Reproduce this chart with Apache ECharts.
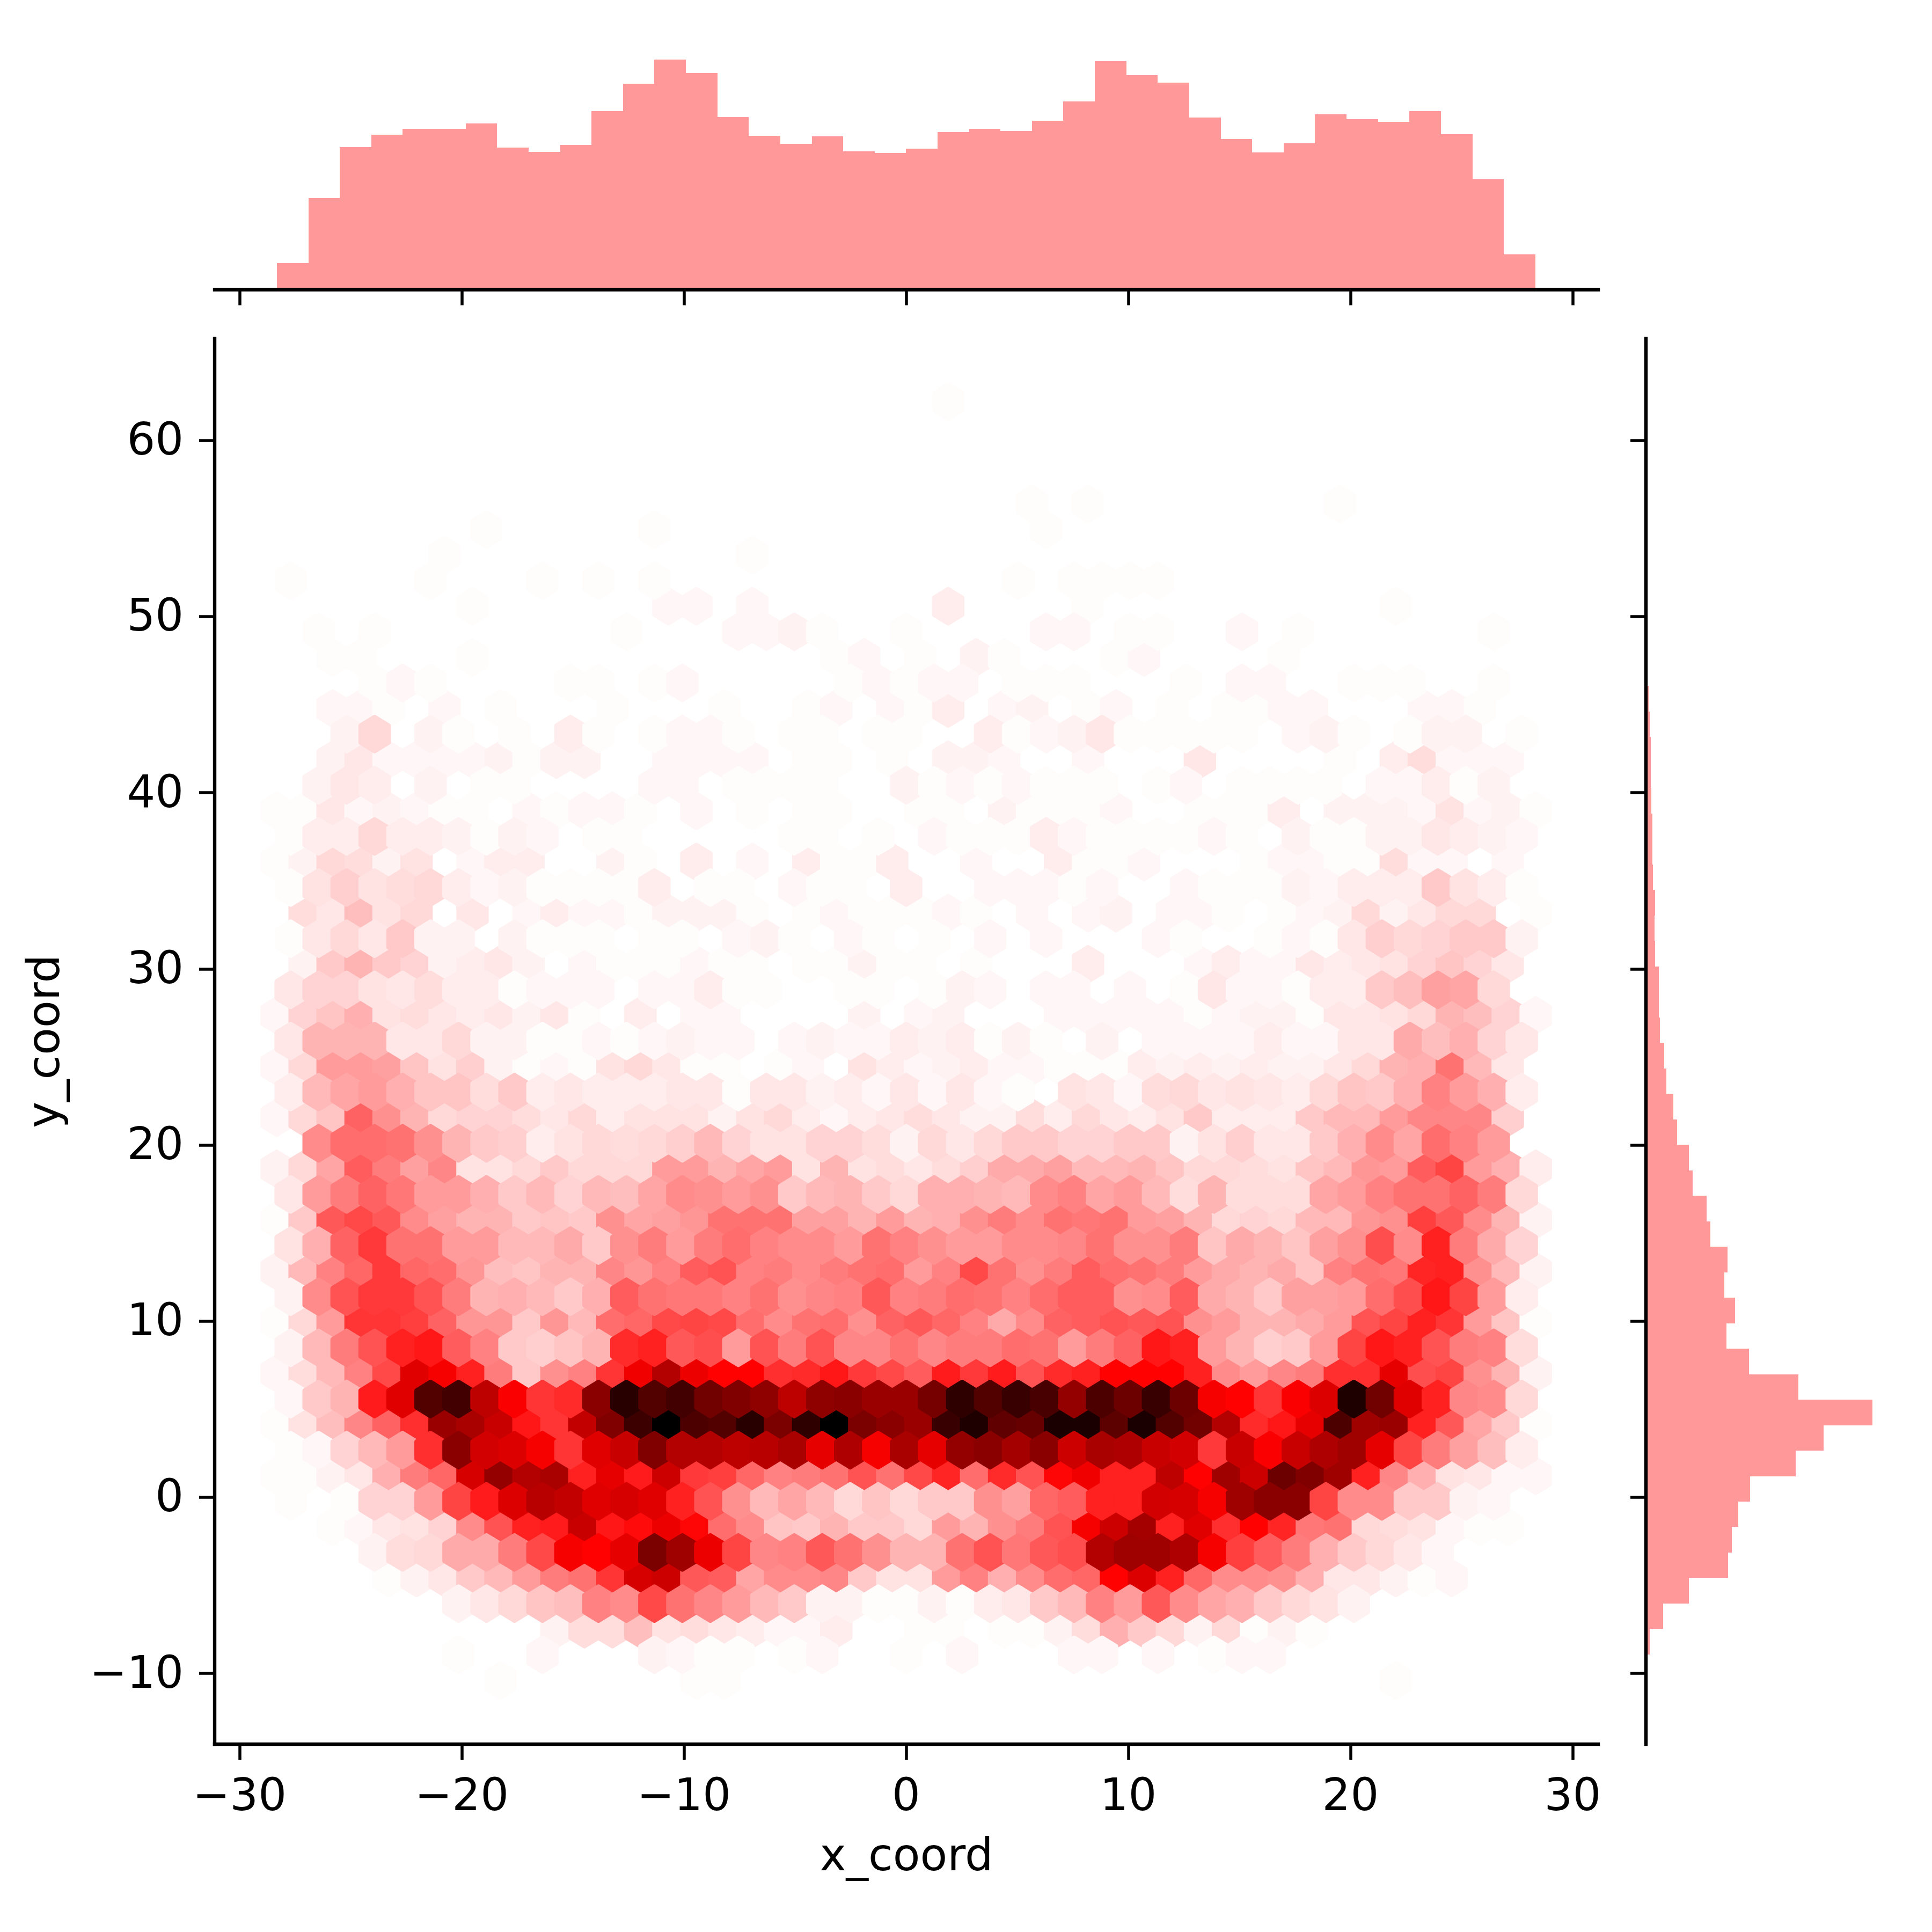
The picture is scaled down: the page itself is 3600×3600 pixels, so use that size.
<!DOCTYPE html>
<html>
<head>
<meta charset="utf-8">
<style>html,body{margin:0;padding:0;background:#fff}#c{width:3600px;height:3600px}</style>
<script src="https://cdn.jsdelivr.net/npm/echarts@6/dist/echarts.min.js"></script>
</head>
<body>
<div id="c"></div>
<script>
const xTicks = [-30,-20,-10,0,10,20,30];
const yTicks = [-10,0,10,20,30,40,50,60];
const xName = 'x_coord';
const yName = 'y_coord';

// marginal histogram of x_coord, left to right
const xBinStart = -28.32, xBinWidth = 1.416;
const xHist = [151,517,802,871,904,904,937,799,775,814,1006,1159,1294,1219,973,865,820,862,778,769,793,886,904,892,952,1060,1285,1207,1165,970,847,772,823,988,961,946,1006,874,622,199];

// marginal histogram of y_coord, bottom to top
const yBinStart = -8.93, yBinWidth = 1.447;
const yHist = [22,97,241,460,481,517,583,838,994,1267,853,577,451,499,439,457,361,340,262,241,175,154,115,103,79,73,73,52,49,52,40,37,37,31,28,28,22,16,8,5];

// hexagon lattice
const hexX0 = -28.33, hexDx = 1.2593, hexY0 = 5.576, hexDy = 1.452, firstRow = -11;

// hexbin counts, one list per lattice row from the bottom (row index firstRow, firstRow+1, ...)
const hexCounts = [
[0,0,0,0,0,0,0,0,1,0,0,0,0,0,0,1,1,0,0,0,0,0,0,0,0,0,0,0,0,0,0,0,0,0,0,0,0,0,0,0,1],
[0,0,0,0,0,0,1,0,0,2,0,0,0,3,2,1,1,0,1,2,0,0,1,0,2,0,0,0,2,2,0,2,0,1,2,2],
[0,0,0,0,0,0,0,0,0,0,3,7,7,13,6,7,5,4,2,2,4,0,0,1,1,0,1,1,3,7,16,11,8,3,8,1,3,1],
[0,0,0,0,0,0,3,5,8,12,13,25,23,36,28,24,20,14,11,3,3,1,1,3,1,4,5,11,14,25,20,33,23,18,16,11,8,6,3],
[0,0,0,0,1,3,5,11,14,20,26,28,40,58,60,33,32,18,23,23,24,11,6,6,20,25,16,23,29,30,50,57,44,30,23,23,22,16,5,5,3,1,2],
[0,0,0,3,7,8,17,17,26,36,52,50,55,76,69,54,37,24,25,33,28,22,15,15,28,34,27,33,35,65,69,69,66,52,38,32,26,16,11,8,5,2],
[0,0,1,2,5,6,9,23,34,44,45,61,46,48,54,49,29,23,12,11,15,11,11,8,20,15,22,26,34,52,60,68,44,56,41,50,43,27,28,8,7,6,2,1,1],
[1,0,1,9,9,20,37,45,57,64,62,56,58,56,44,34,22,14,18,14,8,12,8,11,11,22,19,30,32,44,44,59,58,52,69,73,73,37,23,23,11,11,3,2],
[1,1,3,5,16,26,30,58,71,65,67,44,55,45,60,39,38,30,25,26,28,34,28,36,43,29,42,34,49,53,44,44,63,50,69,60,79,75,69,44,24,16,6,5,2,2],
[1,2,9,14,20,41,73,59,57,52,40,56,61,75,65,65,63,64,67,55,66,52,67,55,71,73,68,73,60,67,66,61,59,39,61,51,61,66,69,55,37,26,19,13,4],
[1,6,13,24,31,41,70,67,61,46,40,62,75,88,100,85,84,92,76,91,100,76,73,70,89,94,81,80,95,95,82,95,84,78,65,42,46,55,85,69,70,44,33,18,11,1],
[2,11,15,45,56,84,87,63,51,40,42,73,92,84,87,78,75,72,63,72,73,70,70,77,91,84,89,86,71,85,79,89,79,52,50,40,51,57,94,78,56,44,24,23,8],
[2,7,14,25,36,56,52,44,26,11,22,25,40,53,65,54,50,50,41,42,46,39,36,32,45,39,45,34,42,44,50,50,50,44,23,20,24,26,41,41,55,35,37,22,15,3],
[3,14,26,34,44,46,32,25,11,10,12,15,42,44,33,35,20,34,26,34,24,24,28,24,26,26,29,28,20,26,31,46,44,20,15,10,11,20,37,46,44,34,26,25,7],
[1,8,20,40,40,38,31,21,21,11,21,14,29,30,36,37,36,29,23,28,29,22,31,33,30,25,17,23,31,32,34,33,34,22,20,15,15,17,20,34,37,44,40,20,12,1],
[3,23,34,39,39,34,26,15,16,14,11,16,32,28,27,27,25,28,22,24,25,33,25,26,29,28,25,29,32,32,22,23,32,17,15,11,19,19,20,29,35,46,37,20,4],
[3,14,25,30,39,30,29,21,13,12,15,15,24,21,25,32,34,25,26,23,26,28,29,20,25,36,28,22,26,32,29,28,26,20,17,15,17,12,25,28,27,43,44,22,14,3],
[6,16,31,39,28,28,20,20,14,14,17,11,22,26,20,26,29,25,23,23,20,28,25,22,20,20,23,23,24,28,22,22,26,12,17,15,12,19,22,35,23,44,26,17,9],
[1,11,33,36,33,23,19,15,15,11,12,11,22,18,19,21,28,28,28,19,19,15,20,15,16,22,26,23,28,27,28,20,19,15,8,9,8,14,14,21,22,38,33,23,15,3],
[5,20,26,31,27,20,20,16,11,14,9,14,13,18,23,22,20,22,11,14,15,11,8,16,16,15,14,23,25,18,20,14,7,15,7,7,7,18,20,25,28,28,31,26,8],
[3,8,18,32,26,19,24,6,6,8,11,8,8,8,20,20,15,18,20,6,15,6,7,5,7,10,17,17,19,14,14,15,12,8,8,7,6,12,14,21,20,32,37,20,16,4],
[0,23,29,29,28,22,15,11,10,4,6,8,7,8,10,14,9,6,6,9,9,7,3,8,5,8,11,11,9,9,11,11,3,6,10,5,5,11,16,23,18,29,25,20,0],
[2,8,12,31,22,15,8,9,9,7,5,8,4,6,6,6,3,6,8,4,2,4,5,7,5,3,3,7,4,8,5,4,6,11,4,4,4,11,14,14,20,24,24,24,10,0],
[4,14,18,20,16,12,12,7,11,4,5,4,4,4,5,5,1,5,5,3,4,2,5,2,5,2,1,0,6,5,2,7,8,5,6,5,4,8,12,11,16,25,20,16,4],
[2,8,20,20,19,12,6,10,3,1,2,1,6,8,5,1,1,0,1,2,0,6,4,2,3,4,2,2,1,1,1,4,3,4,3,4,3,3,5,8,15,16,28,14,5,0],
[5,15,15,15,5,5,8,3,3,1,1,2,1,2,3,2,2,0,2,3,2,2,4,3,4,1,3,1,0,3,0,2,2,2,2,4,2,2,5,5,17,13,16,9,5],
[2,9,12,16,6,7,5,4,5,3,5,1,0,4,0,2,2,0,0,0,0,3,0,2,3,0,0,0,2,2,2,2,2,1,2,3,3,1,5,5,6,8,15,13,9,2],
[5,9,9,6,5,7,4,4,1,2,2,2,0,2,2,4,1,1,0,0,1,1,0,1,3,2,0,2,2,0,2,0,1,5,2,2,1,4,4,11,13,19,18,8,0],
[0,3,11,15,11,9,3,4,5,3,0,2,1,1,1,2,1,1,0,1,1,3,1,1,0,1,0,0,0,4,0,0,0,2,4,2,2,5,4,5,6,9,12,9,5,0],
[1,5,8,5,11,3,3,0,3,1,1,1,0,1,1,0,2,3,1,0,2,1,0,1,0,2,0,2,0,0,0,2,1,0,0,1,2,1,5,10,8,9,11,11,3],
[0,7,5,13,6,8,0,5,0,2,4,2,2,1,3,3,3,1,0,1,2,1,1,1,2,1,0,2,0,2,3,0,2,2,1,0,1,2,3,8,3,5,8,8,0,1],
[1,6,10,6,7,8,4,2,3,1,1,1,1,4,0,1,1,0,2,1,1,0,4,0,0,2,2,2,1,2,0,0,2,1,1,1,3,2,4,4,4,11,6,4,1],
[1,3,8,7,3,6,0,2,4,4,0,0,3,1,0,4,0,2,0,4,1,1,4,0,0,2,0,0,4,1,1,2,0,0,0,1,2,2,1,1,7,2,2,0,2,0],
[1,4,4,8,4,4,3,1,3,2,0,1,1,0,0,0,0,0,1,1,0,1,0,2,1,1,1,4,2,1,1,1,1,2,1,0,3,1,1,3,3,5,4,3,2],
[1,1,5,2,3,2,1,1,0,2,1,2,2,1,0,2,0,1,0,1,1,0,0,1,1,0,3,1,1,1,2,0,0,1,1,1,4,0,3,3,3,2,6,2,3,1],
[0,3,5,4,0,3,0,1,1,0,0,0,0,2,2,0,1,1,1,1,0,0,3,1,2,1,2,1,1,1,0,1,2,0,1,1,1,1,0,2,2,4,1,3],
[0,0,3,5,2,2,2,2,3,1,3,3,0,0,2,2,2,2,0,1,1,0,1,0,3,3,2,0,0,2,0,0,0,5,0,0,0,0,1,0,4,7,2,2,2],
[0,0,3,8,0,3,1,0,1,0,4,1,0,1,2,2,1,0,1,1,0,1,1,0,0,4,1,2,3,5,1,1,1,1,1,0,2,3,1,0,1,3,3,0,1],
[0,0,2,2,1,0,2,0,1,0,0,0,1,0,0,0,1,0,0,1,2,0,2,1,4,0,2,3,0,1,2,0,1,0,1,1,2,2,0,0,0,2,2,1],
[0,0,0,1,2,1,0,0,0,0,1,1,0,1,2,0,0,0,0,0,1,2,1,2,2,0,1,1,1,0,0,0,1,0,2,2,0,0,1,1,1,0,0,1],
[0,0,1,1,0,0,0,1,0,0,0,0,0,0,0,0,0,0,0,0,1,2,0,1,0,3,1,0,0,0,1,2,0,0,0,0,1],
[0,1,0,1,0,0,0,0,0,0,0,0,1,0,0,0,2,2,3,1,0,0,1,0,0,0,0,2,2,0,1,1,0,0,2,0,1,0,0,0,0,0,0,1],
[0,0,0,0,0,0,0,1,0,0,0,0,0,0,2,2,0,2,0,0,0,0,0,0,4,0,0,0,0,1,0,0,0,0,0,0,0,0,0,0,1],
[1,0,0,0,0,1,0,0,0,1,0,1,0,1,0,0,0,0,0,0,0,0,0,0,0,0,1,0,1,1,1,1],
[0,0,0,0,0,0,1,0,0,0,0,0,0,0,0,0,0,1],
[0,0,0,0,0,0,0,1,0,0,0,0,0,1,0,0,0,0,0,0,0,0,0,0,0,0,0,1],
[0,0,0,0,0,0,0,0,0,0,0,0,0,0,0,0,0,0,0,0,0,0,0,0,0,0,0,1,0,1,0,0,0,0,0,0,0,0,1],
[],
[],
[],
[0,0,0,0,0,0,0,0,0,0,0,0,0,0,0,0,0,0,0,0,0,0,0,0,1]
];
const hexMin = 0.4, hexMax = 100;

function hexColor(v) {
  const t = (v - hexMin) / (hexMax - hexMin);
  if (t <= 0.5) { const g = Math.round(255 * (1 - t * 2)); return 'rgb(255,' + g + ',' + g + ')'; }
  return 'rgb(' + Math.round(255 * (2 - t * 2)) + ',0,0)';
}

const hexCells = [];
function addLattice(isOffset) {
  const cols = 46;
  for (let i = 0; i < cols; i++) {
    hexCounts.forEach(function (row, r) {
      const k = firstRow + r;
      const offset = Math.abs(k % 2) === 0;
      if (offset !== isOffset) return;
      const v = row[i];
      if (!v) return;
      hexCells.push([hexX0 + (i + (offset ? 0.5 : 0)) * hexDx, hexY0 + k * hexDy, v]);
    });
  }
}
addLattice(false);
addLattice(true);

const xMin = -31.12, xMax = 31.15, yMin = -14.02, yMax = 65.78;
const textColor = '#000';
const fontFamily = '"DejaVu Sans"';
const lw = 6.4;

function tickMinus(v) { return String(v).replace('-', '\u2212'); }

function axisBase(ticks, extra) {
  return Object.assign({
    type: 'value', z: 10, splitLine: { show: false },
    axisLine: { show: true, onZero: false, lineStyle: { color: '#000', width: lw, cap: 'square' } },
    axisTick: { show: true, inside: false, length: 29, customValues: ticks, lineStyle: { color: '#000', width: 5.5 } },
    axisLabel: { show: false, customValues: ticks }
  }, extra);
}
const xLabelStyle = { show: true, color: textColor, fontFamily: fontFamily, fontSize: 83, margin: 60, formatter: tickMinus };
const yLabelStyle = { show: true, color: textColor, fontFamily: fontFamily, fontSize: 83, margin: 58, verticalAlign: 'top', lineHeight: 10, formatter: tickMinus };
const nameStyle = { color: textColor, fontFamily: fontFamily, fontSize: 83 };

function histX(params, api) {
  const a = api.coord([api.value(0), 0]);
  const b = api.coord([api.value(1), api.value(2)]);
  const x0 = Math.round(a[0]), x1 = Math.round(b[0]), y1 = Math.round(b[1]);
  return { type: 'rect', shape: { x: x0, y: y1, width: x1 - x0, height: a[1] - y1 }, style: { fill: '#ff9999' } };
}
function histY(params, api) {
  const a = api.coord([0, api.value(0)]);
  const b = api.coord([api.value(2), api.value(1)]);
  const y0 = Math.round(a[1]), y1 = Math.round(b[1]), x1 = Math.round(b[0]);
  return { type: 'rect', shape: { x: a[0], y: y1, width: x1 - a[0], height: y0 - y1 }, style: { fill: '#ff9999' } };
}
function hexItem(params, api) {
  const x = api.value(0), y = api.value(1), v = api.value(2);
  const hx = hexDx / 2, hs = hexDy / 3, ht = hexDy * 2 / 3;
  const pts = [[x + hx, y - hs], [x + hx, y + hs], [x, y + ht], [x - hx, y + hs], [x - hx, y - hs], [x, y - ht]].map(function (p) { return api.coord(p); });
  const c = hexColor(v);
  return { type: 'polygon', shape: { points: pts }, style: { fill: c, stroke: c, lineWidth: 8.3, lineJoin: 'round' } };
}

const chart = echarts.init(document.getElementById('c'), null, { renderer: 'canvas', width: 3600, height: 3600 });
chart.setOption({
  animation: false,
  backgroundColor: '#ffffff',
  grid: [
    { left: 400, top: 631, width: 2578, height: 2619 },
    { left: 400, top: 94, width: 2578, height: 446 },
    { left: 3067, top: 631, width: 443, height: 2619 }
  ],
  xAxis: [
    axisBase(xTicks, { gridIndex: 0, min: xMin, max: xMax, position: 'bottom', axisLabel: Object.assign({ customValues: xTicks }, xLabelStyle), name: xName, nameLocation: 'middle', nameGap: 172, nameTextStyle: nameStyle }),
    axisBase(xTicks, { gridIndex: 1, min: xMin, max: xMax, position: 'bottom' }),
    { type: 'value', gridIndex: 2, min: 0, max: 1329, show: false }
  ],
  yAxis: [
    axisBase(yTicks, { gridIndex: 0, min: yMin, max: yMax, position: 'left', axisLabel: Object.assign({ customValues: yTicks }, yLabelStyle), name: yName, nameLocation: 'middle', nameGap: 270, nameRotate: 90, nameTextStyle: nameStyle }),
    { type: 'value', gridIndex: 1, min: 0, max: 1346, show: false },
    axisBase(yTicks, { gridIndex: 2, min: yMin, max: yMax, position: 'left' })
  ],
  series: [
    { type: 'custom', xAxisIndex: 0, yAxisIndex: 0, coordinateSystem: 'cartesian2d', clip: true, progressive: 0, renderItem: hexItem, data: hexCells, encode: { x: 0, y: 1 } },
    { type: 'custom', xAxisIndex: 1, yAxisIndex: 1, coordinateSystem: 'cartesian2d', progressive: 0, renderItem: histX,
      data: xHist.map(function (h, i) { return [xBinStart + i * xBinWidth, xBinStart + (i + 1) * xBinWidth, h]; }), encode: { x: [0, 1], y: 2 } },
    { type: 'custom', xAxisIndex: 2, yAxisIndex: 2, coordinateSystem: 'cartesian2d', progressive: 0, renderItem: histY,
      data: yHist.map(function (h, i) { return [yBinStart + i * yBinWidth, yBinStart + (i + 1) * yBinWidth, h]; }), encode: { x: 2, y: [0, 1] } }
  ]
});
</script>
</body>
</html>
